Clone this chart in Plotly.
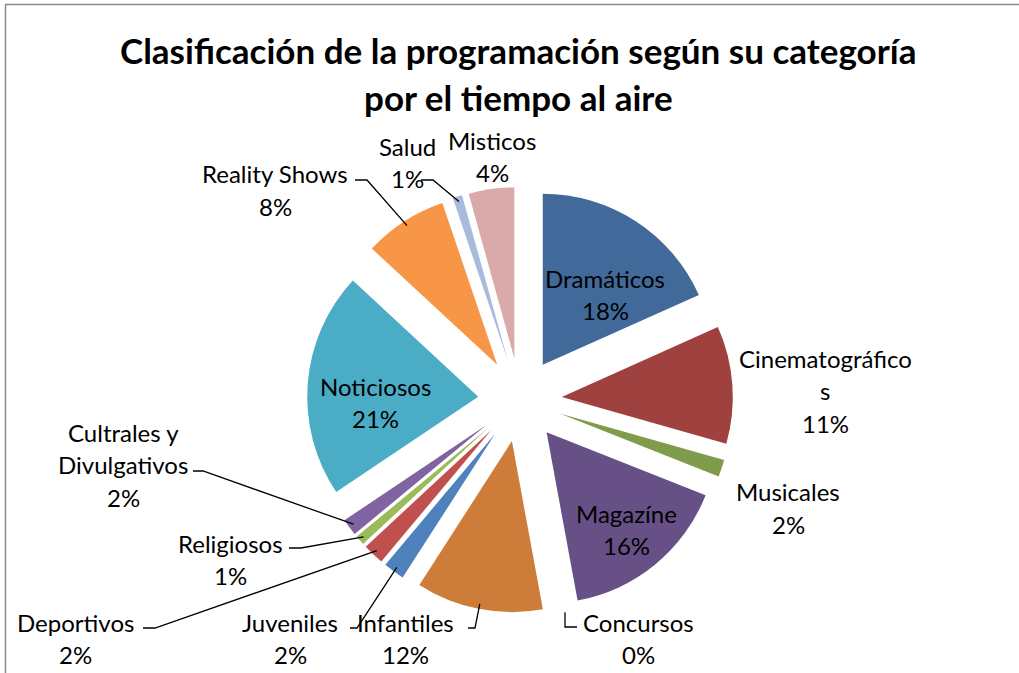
import math
import plotly.graph_objects as go

# categories and their share of air time (percent)
categorias = ['Dramáticos', 'Cinematográficos', 'Musicales', 'Magazíne', 'Concursos',
              'Infantiles', 'Juveniles', 'Deportivos', 'Religiosos',
              'Cultrales y Divulgativos', 'Noticiosos', 'Reality Shows', 'Salud', 'Misticos']
valores = [18.3, 11.1, 1.6, 16.1, 0.0, 12.0, 2.0, 2.0, 0.9, 1.6, 21.3, 7.9, 0.9, 4.3]

# how the category names wrap in the labels
etiquetas = [['Dramáticos'], ['Cinematográfico', 's'], ['Musicales'], ['Magazíne'],
             ['Concursos'], ['Infantiles'], ['Juveniles'], ['Deportivos'], ['Religiosos'],
             ['Cultrales y', 'Divulgativos'], ['Noticiosos'], ['Reality Shows'], ['Salud'],
             ['Misticos']]

colores = ['#416A9B', '#9E413F', '#7F9C4A', '#675085', '#3B96AE', '#CD7C3A', '#4F81BD',
           '#C0504D', '#9BBB59', '#8064A2', '#4BACC6', '#F79646', '#A9BBDD', '#DAA9A9']

W, H = 1019, 673
FONT = 'Lato'
pull = 0.245
cx, cy, r = 520, 400, 171
half = r * (1 + pull)

fig = go.Figure(go.Pie(
    labels=categorias, values=valores, sort=False, direction='clockwise', rotation=0,
    pull=[pull] * len(valores), textinfo='none', hoverinfo='label+percent',
    marker=dict(colors=colores, line=dict(width=0)),
    domain=dict(x=[(cx - half) / W, (cx + half) / W],
                y=[(H - cy - half) / H, (H - cy + half) / H]),
))

def px(x, y):
    return x / W, 1 - y / H

# label positions (centre of first line, pixels), leader stubs
pos_etq = [(605, 278), (825, 358), (788, 492), (626, 513), (638, 622), (405, 622),
           (290, 622), (75, 622), (230, 543), (123, 432), (375, 386), (275, 174),
           (407, 146), (492, 140)]
stubs = {4: (577, 627, 565), 5: (468, 628, 475), 6: (350, 628, 357), 7: (143, 628, 155),
         8: (289, 548, 301), 9: (193, 471, 203), 11: (355, 180, 367), 12: (421, 180, 433)}
LS = 32.5

anns = []
total = sum(valores)
acum = 0
for i, (nombre, v) in enumerate(zip(etiquetas, valores)):
    mid = (acum + v / 2) / total * 2 * math.pi
    acum += v
    x0, y0 = pos_etq[i]
    lineas = nombre + [f'{round(v / total * 100)}%']
    for k, t in enumerate(lineas):
        ax, ay = px(x0, y0 + k * LS)
        anns.append(dict(x=ax, y=ay, xref='paper', yref='paper', text=t, showarrow=False,
                         xanchor='center', yanchor='middle',
                         font=dict(family=FONT, size=24, color='black')))
    if i in stubs:
        sx, sy, ex = stubs[i]
        d = pull * r + 0.97 * r
        tx, ty = cx + d * math.sin(mid), cy - d * math.cos(mid)
        if i == 4:
            path = f'M {sx} {sy} L {ex} {sy} L {ex} {ty + 8:.1f}'
        else:
            path = f'M {sx} {sy} L {ex} {sy} L {tx:.1f} {ty:.1f}'
        fig.add_shape(type='path', xref='x', yref='y', path=path,
                      line=dict(color='black', width=1.3))

for k, t in enumerate(['Clasificación de la programación según su categoría',
                       'por el tiempo al aire']):
    ax, ay = px(518, 50 + k * 47)
    anns.append(dict(x=ax, y=ay, xref='paper', yref='paper', text=f'<b>{t}</b>',
                     showarrow=False, xanchor='center', yanchor='middle',
                     font=dict(family=FONT, size=35, color='black')))

# chart area border (top and left edges visible)
fig.add_shape(type='line', xref='x', yref='y', x0=5, y0=4.5, x1=W, y1=4.5,
              line=dict(color='#8a8a8a', width=1.5))
fig.add_shape(type='line', xref='x', yref='y', x0=5.5, y0=4.5, x1=5.5, y1=H,
              line=dict(color='#8a8a8a', width=1.5))

fig.update_layout(
    width=W, height=H, margin=dict(l=0, r=0, t=0, b=0),
    paper_bgcolor='white', plot_bgcolor='rgba(0,0,0,0)', showlegend=False,
    annotations=anns,
    xaxis=dict(range=[0, W], visible=False, fixedrange=True, domain=[0, 1]),
    yaxis=dict(range=[H, 0], visible=False, fixedrange=True, domain=[0, 1]),
)
fig.write_html('out.html', config={'displayModeBar': False},
               post_script="document.body.style.margin='0';")
